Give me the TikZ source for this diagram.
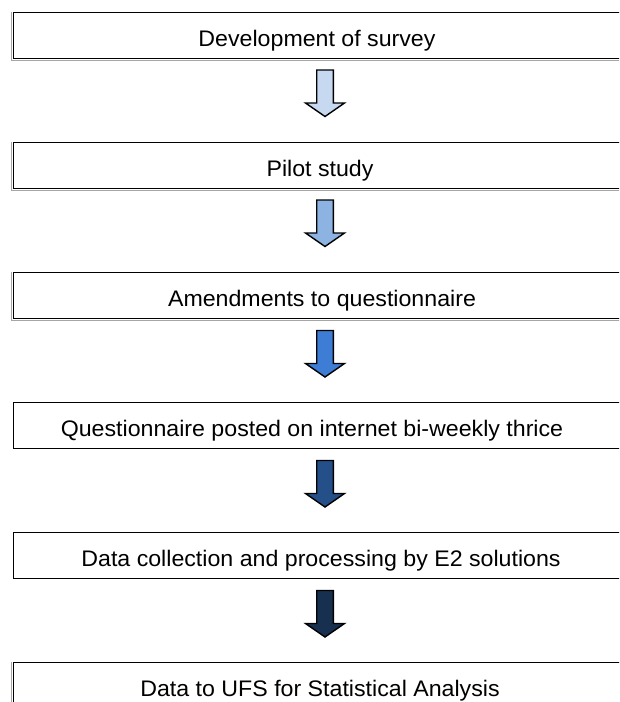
\documentclass[tikz,border=0pt]{standalone}
\usepackage{fontspec}
\setmainfont[FakeStretch=1.03]{Liberation Sans}
\definecolor{arA}{HTML}{C6D9F1}
\definecolor{arB}{HTML}{8DB3E2}
\definecolor{arC}{HTML}{3D7DD6}
\definecolor{arD}{HTML}{254F88}
\definecolor{arE}{HTML}{17304F}
\definecolor{shadowgray}{HTML}{A6A6A6}
\begin{document}
\begin{tikzpicture}[x=1pt,y=-1pt,
  stepbox/.style={draw=black, line width=1.4pt, minimum width=640pt, minimum height=46pt, inner sep=0pt, anchor=north west},
  steplabel/.style={anchor=base, inner sep=0pt, font=\fontsize{22.5}{26}\selectfont},
  boxshadow/.style={draw=shadowgray, line width=1pt},
  blockarrow/.pic={\draw[line width=1.4pt, line join=miter, fill=#1] (-8.3,0) -- (8.3,0) -- (8.3,33) -- (19.5,33) -- (0,46.5) -- (-19.5,33) -- (-8.3,33) -- cycle;}
]
\clip (0,0) rectangle (619,702);
\fill[white] (0,0) rectangle (619,702);

% boxes
\node[stepbox] (b1) at (13,12) {};
\node[stepbox] (b2) at (13,142) {};
\node[stepbox] (b3) at (13,272) {};
\node[stepbox] (b4) at (13,402) {};
\node[stepbox] (b5) at (13,532) {};
\node[stepbox] (b6) at (13,662) {};

% shadows
\foreach \b in {b1,b2,b3,b6}{
  \draw[boxshadow] ([xshift=-1.3pt,yshift=-1.3pt]\b.south west) -- ([yshift=-1.3pt]\b.south east);
  \draw[boxshadow] ([xshift=-1.3pt]\b.north west) -- ([xshift=-1.3pt,yshift=-1.3pt]\b.south west);
}

% labels
\begin{scope}
  \clip (0,12) rectangle (619,50);
  \node[steplabel] (t1) at (317,46.5) {Development of survey};
\end{scope}
\begin{scope}
  \clip (0,142) rectangle (619,180);
  \node[steplabel] (t2) at (320,176.5) {Pilot study};
\end{scope}
\begin{scope}
  \clip (0,272) rectangle (619,310);
  \node[steplabel] (t3) at (322,306.5) {Amendments to questionnaire};
\end{scope}
\node[steplabel] (t4) at (312,436) {Questionnaire posted on internet bi-weekly thrice};
\begin{scope}
  \clip (0,532) rectangle (619,570);
  \node[steplabel] (t5) at (321,566.5) {Data collection and processing by E2 solutions};
\end{scope}
\node[steplabel] (t6) at (320,696) {Data to UFS for Statistical Analysis};

% block arrows between boxes
\coordinate (a1) at (325,70);
\coordinate (a2) at (325,200);
\coordinate (a3) at (325,330.5);
\coordinate (a4) at (325,460.5);
\coordinate (a5) at (325,590.5);
\pic at (a1) {blockarrow=arA};
\pic at (a2) {blockarrow=arB};
\pic at (a3) {blockarrow=arC};
\pic at (a4) {blockarrow=arD};
\pic at (a5) {blockarrow=arE};
\end{tikzpicture}
\end{document}
